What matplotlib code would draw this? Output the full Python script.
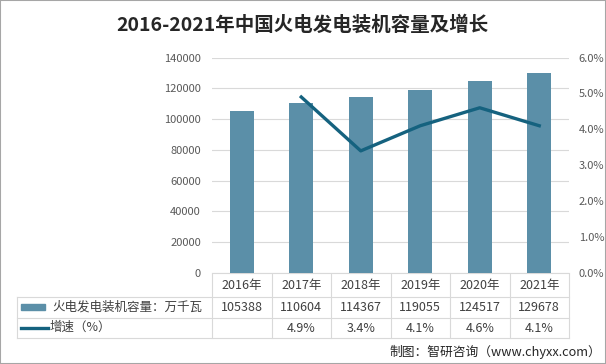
import numpy as np
import matplotlib
matplotlib.use('Agg')
import matplotlib.pyplot as plt
from matplotlib.lines import Line2D
from matplotlib.patches import Rectangle
from matplotlib.transforms import blended_transform_factory

plt.rcParams['font.family'] = ['Noto Sans CJK SC', 'DejaVu Sans']

# data
years = ['2016年', '2017年', '2018年', '2019年', '2020年', '2021年']
capacity = [105388, 110604, 114367, 119055, 124517, 129678]
growth = [None, 4.9, 3.4, 4.1, 4.6, 4.1]
bar_label = '火电发电装机容量：万千瓦'
line_label = '增速（%）'

BAR_C = '#5B8FA8'
LINE_C = '#15627F'
GRID_C = '#D9D9D9'
TEXT_C = '#404040'
TICK_C = '#595959'

W, H = 606, 364
fig = plt.figure(figsize=(W / 100, H / 100), dpi=100)

def fx(px):
    return px / W

def fy(py):
    return 1 - py / H

# plot area in pixels: x 212..569, y 57.5..273
ax = fig.add_axes([fx(212), fy(273), fx(357), 215.5 / H])
x = np.arange(len(years))
ax.bar(x, capacity, width=0.4, color=BAR_C, zorder=3)
ax.set_xlim(-0.5, len(years) - 0.5)
ax.set_ylim(0, 140000)
ax.set_yticks(np.arange(0, 140001, 20000))
ax.yaxis.grid(True, color=GRID_C, lw=0.8, zorder=0)
ax.set_xticks([])
for s in ['top', 'left', 'right']:
    ax.spines[s].set_visible(False)
ax.spines['bottom'].set_color(GRID_C)
ax.tick_params(axis='y', length=0, pad=8, labelsize=8, labelcolor=TICK_C)

ax2 = ax.twinx()
gx = [i for i, g in enumerate(growth) if g is not None]
gy = [g for g in growth if g is not None]
ax2.plot(gx, gy, color=LINE_C, lw=2.4, zorder=4)
ax2.set_ylim(0, 6)
ax2.set_yticks(np.arange(0, 6.01, 1))
ax2.set_yticklabels([f'{v:.1f}%' for v in np.arange(0, 6.01, 1)])
for s in ['top', 'left', 'right', 'bottom']:
    ax2.spines[s].set_visible(False)
ax2.tick_params(axis='y', length=0, pad=7, labelsize=8, labelcolor=TICK_C)

# data table below the plot
tr = blended_transform_factory(ax.transData, fig.transFigure)
line_kw = dict(color=GRID_C, lw=0.8)
for b in np.arange(-0.5, len(years), 1.0):
    fig.add_artist(Line2D([b, b], [fy(274), fy(338)], transform=tr, **line_kw))
for py in [297, 318, 338]:
    fig.add_artist(Line2D([fx(17), fx(569)], [fy(py), fy(py)], **line_kw))
fig.add_artist(Line2D([fx(17), fx(17)], [fy(297), fy(338)], **line_kw))

for i in range(len(years)):
    fig.text(i, fy(285), years[i], transform=tr, ha='center', va='center',
             fontsize=9, color=TEXT_C)
    fig.text(i, fy(307.5), str(capacity[i]), transform=tr, ha='center',
             va='center', fontsize=9, color=TEXT_C)
    if growth[i] is not None:
        fig.text(i, fy(328), f'{growth[i]:.1f}%', transform=tr, ha='center',
                 va='center', fontsize=9, color=TEXT_C)

fig.add_artist(Rectangle((fx(21), fy(310)), fx(24), 6 / H, color=BAR_C))
fig.add_artist(Line2D([fx(21), fx(48)], [fy(327.5), fy(327.5)],
                      color=LINE_C, lw=2.4))
fig.text(fx(52), fy(307.5), bar_label, ha='left', va='center', fontsize=9,
         color=TEXT_C)
fig.text(fx(50), fy(327.5), line_label, ha='left', va='center', fontsize=9,
         color=TEXT_C)

# title and source
fig.text(fx(302), fy(25), '2016-2021年中国火电发电装机容量及增长',
         ha='center', va='center', fontsize=14, fontweight='bold',
         color='#262626')
fig.text(fx(601), fy(352), '制图：智研咨询（www.chyxx.com）', ha='right',
         va='center', fontsize=9.2, color='#262626')

# outer border
fig.add_artist(Rectangle((0, 0), 1, 1, transform=fig.transFigure,
                         fill=False, edgecolor='#A6A6A6', lw=1.5))

fig.savefig('out.png', dpi=100)
